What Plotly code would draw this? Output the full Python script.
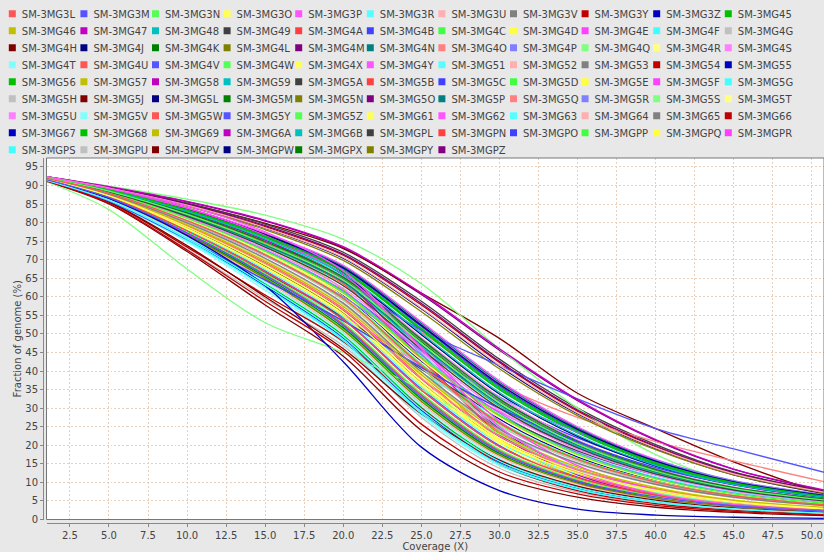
import plotly.graph_objects as go

# ---------------- data ----------------
coverage_x = [1, 5, 10, 15, 20, 25, 30, 35, 40, 45, 51]

sample_names = [
    "SM-3MG3L", "SM-3MG3M", "SM-3MG3N", "SM-3MG3O", "SM-3MG3P", "SM-3MG3R", "SM-3MG3U", "SM-3MG3V", "SM-3MG3Y", "SM-3MG3Z", "SM-3MG45",
    "SM-3MG46", "SM-3MG47", "SM-3MG48", "SM-3MG49", "SM-3MG4A", "SM-3MG4B", "SM-3MG4C", "SM-3MG4D", "SM-3MG4E", "SM-3MG4F", "SM-3MG4G",
    "SM-3MG4H", "SM-3MG4J", "SM-3MG4K", "SM-3MG4L", "SM-3MG4M", "SM-3MG4N", "SM-3MG4O", "SM-3MG4P", "SM-3MG4Q", "SM-3MG4R", "SM-3MG4S",
    "SM-3MG4T", "SM-3MG4U", "SM-3MG4V", "SM-3MG4W", "SM-3MG4X", "SM-3MG4Y", "SM-3MG51", "SM-3MG52", "SM-3MG53", "SM-3MG54", "SM-3MG55",
    "SM-3MG56", "SM-3MG57", "SM-3MG58", "SM-3MG59", "SM-3MG5A", "SM-3MG5B", "SM-3MG5C", "SM-3MG5D", "SM-3MG5E", "SM-3MG5F", "SM-3MG5G",
    "SM-3MG5H", "SM-3MG5J", "SM-3MG5L", "SM-3MG5M", "SM-3MG5N", "SM-3MG5O", "SM-3MG5P", "SM-3MG5Q", "SM-3MG5R", "SM-3MG5S", "SM-3MG5T",
    "SM-3MG5U", "SM-3MG5V", "SM-3MG5W", "SM-3MG5Y", "SM-3MG5Z", "SM-3MG61", "SM-3MG62", "SM-3MG63", "SM-3MG64", "SM-3MG65", "SM-3MG66",
    "SM-3MG67", "SM-3MG68", "SM-3MG69", "SM-3MG6A", "SM-3MG6B", "SM-3MGPL", "SM-3MGPN", "SM-3MGPO", "SM-3MGPP", "SM-3MGPQ", "SM-3MGPR",
    "SM-3MGPS", "SM-3MGPU", "SM-3MGPV", "SM-3MGPW", "SM-3MGPX", "SM-3MGPY", "SM-3MGPZ",
]

fraction_values = [
    [91.9, 87.9, 80.5, 71.3, 59.6, 41.5, 26.0, 16.2, 10.1, 6.4, 3.9],   # 3L
    [91.6, 86.7, 77.2, 65.8, 52.2, 33.0, 18.2, 10.3, 6.1, 3.7, 2.2],    # 3M
    [92.0, 88.5, 82.2, 74.3, 64.5, 47.5, 31.5, 20.4, 13.0, 8.3, 5.2],   # 3N
    [91.7, 87.2, 78.8, 68.6, 56.0, 37.2, 21.8, 13.0, 7.9, 4.8, 2.9],    # 3O
    [92.3, 89.2, 84.5, 77.5, 67.0, 46.0, 25.0, 13.0, 7.0, 4.0, 2.2],    # 3P
    [91.4, 86.0, 75.6, 63.2, 49.2, 29.8, 15.7, 8.6, 4.9, 2.9, 1.7],     # 3R
    [92.3, 89.3, 84.7, 78.6, 70.6, 57.0, 41.6, 28.7, 19.3, 12.3, 7.2],  # 3U
    [91.8, 87.6, 79.9, 70.4, 58.3, 39.8, 24.4, 15.2, 9.5, 6.0, 3.7],    # 3V
    [91.2, 85.2, 72.6, 58.8, 45.4, 25.7, 12.8, 6.9, 3.8, 2.2, 1.2],     # 3Y
    [91.4, 86.5, 76.5, 63.0, 42.5, 19.5, 7.8, 2.8, 1.2, 0.6, 0.3],      # 3Z
    [92.2, 88.9, 83.4, 76.3, 67.2, 51.5, 35.6, 23.8, 15.3, 9.9, 6.2],   # 45
    [91.7, 87.4, 79.4, 69.6, 57.4, 39.0, 23.4, 14.1, 8.6, 5.2, 3.2],    # 46
    [92.4, 89.7, 85.7, 80.6, 73.5, 61.0, 46.0, 32.3, 21.5, 13.6, 7.8],  # 47
    [92.1, 88.7, 83.0, 75.6, 66.2, 50.2, 34.2, 22.7, 14.6, 9.4, 5.9],   # 48
    [92.0, 88.3, 81.7, 73.4, 63.0, 45.9, 30.0, 19.3, 12.3, 7.9, 4.9],   # 49
    [91.6, 86.9, 77.8, 66.8, 53.8, 34.8, 19.6, 11.2, 6.6, 4.0, 2.4],    # 4A
    [91.3, 85.8, 75.5, 64.5, 53.5, 41.0, 30.0, 21.0, 14.0, 9.5, 6.0],   # 4B
    [92.0, 88.1, 81.1, 72.3, 61.2, 43.8, 28.2, 17.6, 11.0, 6.9, 4.3],   # 4C
    [91.6, 87.0, 78.3, 67.8, 55.0, 36.2, 21.0, 12.5, 7.6, 4.6, 2.8],    # 4D
    [92.2, 88.9, 83.8, 76.5, 66.0, 46.5, 26.5, 14.5, 8.0, 4.6, 2.6],    # 4E
    [91.4, 85.9, 75.2, 62.5, 48.2, 28.6, 14.9, 8.1, 4.6, 2.8, 1.6],     # 4F
    [91.9, 87.8, 80.3, 71.0, 59.0, 40.8, 25.2, 15.7, 9.8, 6.2, 3.8],    # 4G
    [91.3, 85.6, 73.8, 60.0, 46.0, 28.5, 16.0, 9.0, 5.2, 3.1, 1.8],     # 4H
    [92.2, 88.9, 83.6, 76.7, 67.8, 52.3, 36.4, 24.3, 15.7, 10.1, 6.4],  # 4J
    [92.1, 88.6, 82.6, 74.9, 65.3, 48.6, 32.5, 21.1, 13.5, 8.6, 5.4],   # 4K
    [91.5, 86.5, 76.6, 64.9, 51.0, 31.8, 17.3, 9.8, 5.7, 3.5, 2.0],     # 4L
    [92.3, 89.4, 85.0, 79.2, 71.5, 58.2, 42.6, 29.5, 19.8, 12.6, 7.4],  # 4M
    [92.0, 88.4, 82.0, 74.0, 64.0, 47.0, 31.0, 20.0, 12.8, 8.2, 5.1],   # 4N
    [91.7, 87.3, 79.0, 69.0, 56.6, 38.0, 22.5, 13.5, 8.2, 5.0, 3.0],    # 4O
    [91.9, 87.8, 80.3, 71.0, 60.0, 45.5, 33.0, 23.5, 16.0, 10.5, 6.5],  # 4P
    [91.0, 83.5, 67.5, 53.0, 45.0, 35.0, 23.0, 13.0, 7.2, 4.1, 2.3],    # 4Q
    [91.9, 88.0, 80.9, 71.9, 60.6, 43.0, 27.5, 17.2, 10.7, 6.8, 4.2],   # 4R
    [91.9, 88.2, 81.4, 72.9, 62.3, 45.2, 29.4, 18.9, 12.0, 7.7, 4.8],   # 4S
    [91.5, 86.2, 76.0, 63.9, 50.2, 30.8, 16.4, 9.0, 5.2, 3.1, 1.8],     # 4T
    [92.1, 88.6, 82.5, 74.5, 63.5, 43.0, 23.5, 12.5, 7.0, 4.1, 2.3],    # 4U
    [92.1, 88.6, 82.3, 74.2, 64.0, 51.0, 41.5, 32.5, 24.5, 19.0, 12.5], # 4V
    [91.6, 86.8, 77.5, 66.3, 53.0, 34.0, 18.9, 10.8, 6.3, 3.8, 2.3],    # 4W
    [91.9, 88.0, 81.0, 72.0, 60.0, 38.5, 20.5, 11.0, 6.0, 3.5, 1.9],    # 4X
    [92.2, 89.0, 83.9, 77.2, 68.5, 53.3, 37.4, 25.0, 16.2, 10.4, 6.6],  # 4Y
    [91.6, 86.9, 78.1, 67.4, 54.6, 35.8, 20.6, 12.3, 7.4, 4.5, 2.7],    # 51
    [91.5, 86.4, 76.3, 64.4, 50.4, 31.2, 16.9, 9.5, 5.5, 3.4, 2.0],     # 52
    [92.1, 88.6, 82.5, 74.7, 65.0, 48.2, 32.1, 20.8, 13.3, 8.5, 5.3],   # 53
    [91.3, 85.5, 73.4, 60.5, 48.0, 30.0, 15.0, 7.8, 4.3, 2.5, 1.4],     # 54
    [91.4, 86.0, 75.5, 63.0, 49.0, 29.5, 15.5, 8.5, 4.8, 2.9, 1.7],     # 55
    [92.1, 88.8, 83.2, 76.0, 66.8, 51.0, 35.0, 23.3, 15.0, 9.7, 6.1],   # 56
    [92.0, 88.1, 81.0, 72.1, 60.9, 43.4, 27.8, 17.4, 10.9, 6.9, 4.3],   # 57
    [92.1, 88.7, 83.0, 75.3, 64.5, 43.5, 23.0, 12.0, 6.5, 3.7, 2.0],    # 58
    [92.0, 88.4, 81.9, 73.8, 63.6, 46.6, 30.6, 19.7, 12.6, 8.1, 5.0],   # 59
    [91.6, 86.8, 77.5, 66.5, 54.5, 40.5, 28.0, 18.5, 12.0, 7.8, 5.0],   # 5A
    [91.6, 86.8, 77.4, 66.1, 52.7, 33.7, 18.7, 10.6, 6.2, 3.8, 2.2],    # 5B
    [92.2, 88.9, 83.5, 76.5, 67.5, 52.0, 36.0, 24.0, 15.5, 10.0, 6.3],  # 5C
    [91.9, 87.9, 80.6, 71.4, 59.8, 41.9, 26.3, 16.4, 10.2, 6.4, 3.9],   # 5D
    [91.9, 87.9, 80.8, 71.8, 59.8, 39.5, 21.5, 11.8, 6.6, 3.8, 2.1],    # 5E
    [91.5, 86.4, 77.0, 66.5, 55.0, 41.5, 29.0, 19.5, 12.8, 8.5, 5.5],   # 5F
    [92.1, 88.7, 83.0, 75.5, 65.5, 45.0, 24.8, 13.5, 7.5, 4.3, 2.4],    # 5G
    [91.8, 87.6, 79.8, 70.2, 58.0, 39.5, 24.0, 15.0, 9.4, 5.9, 3.6],    # 5H
    [91.1, 85.0, 72.2, 57.8, 44.0, 24.0, 11.5, 6.0, 3.3, 1.9, 1.0],     # 5J
    [92.1, 88.7, 82.9, 75.4, 65.9, 49.8, 33.8, 22.4, 14.4, 9.3, 5.8],   # 5L
    [91.5, 86.6, 76.9, 65.4, 51.7, 32.5, 17.8, 10.1, 5.9, 3.6, 2.1],    # 5M
    [92.3, 89.2, 84.4, 78.1, 69.8, 56.0, 40.6, 28.0, 18.8, 12.0, 7.0],  # 5N
    [92.2, 89.0, 83.9, 76.8, 66.5, 45.0, 24.5, 13.0, 7.0, 4.0, 2.2],    # 5O
    [92.2, 89.0, 83.8, 77.0, 68.2, 52.9, 37.0, 24.7, 16.0, 10.3, 6.5],  # 5P
    [92.2, 88.8, 83.0, 75.5, 65.5, 50.5, 36.5, 27.5, 21.0, 15.8, 10.0], # 5Q
    [92.0, 88.2, 81.3, 72.6, 61.6, 44.3, 28.7, 18.0, 11.2, 7.1, 4.4],   # 5R
    [92.4, 89.8, 86.3, 82.0, 75.5, 63.5, 46.0, 30.0, 17.5, 10.0, 5.5],  # 5S
    [91.6, 87.0, 78.4, 67.9, 55.3, 36.6, 21.3, 12.7, 7.7, 4.7, 2.8],    # 5T
    [92.1, 88.7, 82.8, 75.2, 65.7, 49.0, 33.0, 21.4, 13.7, 8.8, 5.5],   # 5U
    [91.3, 85.7, 74.8, 61.8, 47.5, 28.0, 14.5, 7.9, 4.5, 2.7, 1.6],     # 5V
    [91.7, 87.3, 79.1, 69.2, 56.8, 38.3, 22.7, 13.6, 8.3, 5.0, 3.0],    # 5W
    [91.7, 87.0, 78.0, 67.0, 54.0, 35.2, 19.9, 11.4, 6.7, 4.1, 2.4],    # 5Y
    [91.9, 87.9, 80.4, 71.1, 59.3, 41.2, 25.6, 16.0, 10.0, 6.3, 3.9],   # 5Z
    [92.0, 88.3, 81.8, 73.6, 63.3, 46.2, 30.3, 19.5, 12.4, 8.0, 5.0],   # 61
    [92.2, 88.9, 83.6, 76.0, 65.5, 44.5, 24.0, 12.5, 6.8, 3.9, 2.1],    # 62
    [91.5, 86.5, 77.0, 66.0, 54.0, 39.5, 27.5, 18.0, 11.5, 7.4, 4.7],   # 63
    [92.0, 88.4, 82.1, 74.1, 64.1, 47.2, 31.2, 20.1, 12.9, 8.3, 5.2],   # 64
    [91.6, 86.7, 77.3, 65.9, 52.4, 33.4, 18.4, 10.5, 6.1, 3.7, 2.2],    # 65
    [92.3, 89.3, 84.8, 78.9, 71.2, 57.8, 42.3, 29.2, 19.6, 12.5, 7.3],  # 66
    [92.0, 88.0, 80.8, 71.8, 60.4, 42.7, 27.1, 16.9, 10.6, 6.7, 4.1],   # 67
    [91.4, 86.1, 75.8, 63.5, 49.6, 30.2, 16.0, 8.8, 5.0, 3.0, 1.7],     # 68
    [92.0, 88.3, 81.8, 73.5, 62.0, 41.0, 21.5, 11.5, 6.3, 3.6, 2.0],    # 69
    [91.7, 87.3, 79.0, 68.9, 56.4, 37.9, 22.4, 13.4, 8.1, 5.0, 3.0],    # 6A
    [92.1, 88.8, 83.3, 76.1, 67.0, 51.2, 35.3, 23.5, 15.2, 9.8, 6.2],   # 6B
    [92.4, 89.5, 85.2, 79.6, 72.0, 58.8, 43.2, 30.0, 20.2, 12.8, 7.5],  # PL
    [91.9, 87.8, 80.4, 71.2, 59.5, 41.4, 25.9, 16.1, 10.0, 6.3, 3.9],   # PN
    [92.0, 88.2, 81.2, 72.5, 61.5, 45.5, 32.0, 22.0, 14.8, 9.8, 6.2],   # PO
    [91.5, 86.5, 76.7, 65.1, 51.3, 32.1, 17.5, 9.9, 5.8, 3.5, 2.1],     # PP
    [91.8, 87.5, 79.6, 69.9, 57.7, 39.4, 23.6, 14.2, 8.7, 5.3, 3.2],    # PQ
    [92.2, 88.9, 83.6, 76.8, 67.9, 52.5, 36.6, 24.5, 15.8, 10.2, 6.4],  # PR
    [91.4, 85.9, 75.3, 62.7, 48.5, 29.0, 15.2, 8.3, 4.7, 2.8, 1.6],     # PS
    [91.2, 85.3, 72.8, 59.5, 46.8, 27.5, 13.8, 7.4, 4.1, 2.4, 1.3],     # PU
    [92.3, 89.5, 85.2, 79.8, 73.0, 61.0, 48.8, 34.0, 24.5, 15.5, 6.5],  # PV
    [92.3, 89.2, 84.6, 78.5, 70.4, 56.8, 41.3, 28.5, 19.1, 12.0, 6.8],  # PW
    [92.1, 88.5, 82.3, 74.5, 64.8, 47.9, 31.8, 20.6, 13.1, 8.4, 5.2],   # PX
    [91.7, 87.1, 78.6, 68.3, 55.7, 37.0, 21.6, 12.9, 7.8, 4.8, 2.9],    # PY
    [92.4, 89.6, 85.6, 80.4, 73.2, 60.6, 45.6, 32.0, 21.3, 13.5, 7.6],  # PZ
]

x_tick_values = [2.5, 5.0, 7.5, 10.0, 12.5, 15.0, 17.5, 20.0, 22.5, 25.0, 27.5,
                 30.0, 32.5, 35.0, 37.5, 40.0, 42.5, 45.0, 47.5, 50.0]
y_tick_values = [0, 5, 10, 15, 20, 25, 30, 35, 40, 45, 50, 55, 60, 65, 70, 75, 80, 85, 90, 95]

# ---------------- style ----------------
palette = [
    "#FF5555", "#5555FF", "#55FF55", "#FFFF55", "#FF55FF", "#55FFFF", "#FFAFAF", "#808080",
    "#C00000", "#0000C0", "#00C000", "#C0C000", "#C000C0", "#00C0C0", "#404040", "#FF4040",
    "#4040FF", "#40FF40", "#FFFF40", "#FF40FF", "#40FFFF", "#C0C0C0", "#800000", "#000080",
    "#008000", "#808000", "#800080", "#008080", "#FF8080", "#8080FF", "#80FF80", "#FFFF80",
    "#FF80FF", "#80FFFF",
]
FONT = "DejaVu Sans"
TEXT_COLOR = "#444444"
BG = "#e8e8e8"
GRID = "#e8cfbb"
AXIS = "#888888"
PER_ROW = 11

W, H = 824, 552
M_L, M_R, M_T, M_B = 43, 0, 158, 29
inner_w = W - M_L - M_R
inner_h = H - M_T - M_B
offset = 3.5

fig = go.Figure()

# curves (first series drawn on top, as in the original)
for i in reversed(range(len(sample_names))):
    fig.add_trace(go.Scatter(
        x=coverage_x, y=fraction_values[i], mode="lines", name=sample_names[i],
        line=dict(color=palette[i % len(palette)], width=1.3, shape="spline", smoothing=0.9),
        showlegend=False, hoverinfo="x+y+name",
    ))

# legend entries: a short thick dash acts as the small square swatch
n_rows = (len(sample_names) + PER_ROW - 1) // PER_ROW
for i, name in enumerate(sample_names):
    r = i // PER_ROW
    lg = "legend" if r == 0 else f"legend{r + 1}"
    last_in_row = (i % PER_ROW == PER_ROW - 1) or (i == len(sample_names) - 1)
    fig.add_trace(go.Scatter(
        x=[None], y=[None], mode="lines", name=name, legend=lg,
        line=dict(color=palette[i % len(palette)], width=7, dash="0px,22px,7px,60px"),
        legendwidth=62 if last_in_row else None,
        showlegend=True, hoverinfo="skip",
    ))

legend_left_px = -18.2
row0_center_px = 13.8
row_step_px = 17
legends = {}
for r in range(n_rows):
    key = "legend" if r == 0 else f"legend{r + 1}"
    top_px = row0_center_px + r * row_step_px - 14.5
    legends[key] = dict(
        orientation="h", xanchor="left", yanchor="top",
        x=(legend_left_px - M_L) / inner_w,
        y=(H - M_B - top_px) / inner_h,
        entrywidth=26.6, entrywidthmode="pixels", itemwidth=30,
        bgcolor="rgba(0,0,0,0)", borderwidth=0,
        font=dict(family=FONT, size=10, color=TEXT_COLOR),
        traceorder="normal",
    )

fig.update_layout(
    width=W, height=H,
    margin=dict(l=M_L, r=M_R, t=M_T, b=M_B, autoexpand=False),
    paper_bgcolor=BG, plot_bgcolor="white",
    font=dict(family=FONT, size=10, color=TEXT_COLOR),
    **legends,
    xaxis=dict(
        domain=[offset / inner_w, 1], range=[1, 50.78], anchor="free", position=0,
        tickvals=x_tick_values, ticktext=[f"{v:.1f}" for v in x_tick_values],
        showline=True, linecolor=AXIS, linewidth=1,
        ticks="outside", ticklen=3, tickcolor=AXIS,
        showgrid=True, gridcolor=GRID, griddash="2px,2px", gridwidth=1,
        zeroline=False,
        tickfont=dict(family=FONT, size=10, color=TEXT_COLOR),
        title=dict(text="Coverage (X)", font=dict(family=FONT, size=10, color=TEXT_COLOR), standoff=0),
    ),
    yaxis=dict(
        domain=[offset / inner_h, 1], range=[0, 97.4], anchor="free", position=0,
        tickvals=y_tick_values,
        showline=True, linecolor=AXIS, linewidth=1,
        ticks="outside", ticklen=3, tickcolor=AXIS,
        showgrid=True, gridcolor=GRID, griddash="2px,2px", gridwidth=1,
        zeroline=False,
        tickfont=dict(family=FONT, size=10, color=TEXT_COLOR),
        title=dict(text="Fraction of genome (%)", font=dict(family=FONT, size=10, color=TEXT_COLOR), standoff=0),
    ),
    shapes=[dict(type="rect", xref="x domain", yref="y domain", x0=0, x1=1, y0=0, y1=1,
                 line=dict(color="#777777", width=1), layer="above")],
    showlegend=True,
)

fig.write_html("out.html")
